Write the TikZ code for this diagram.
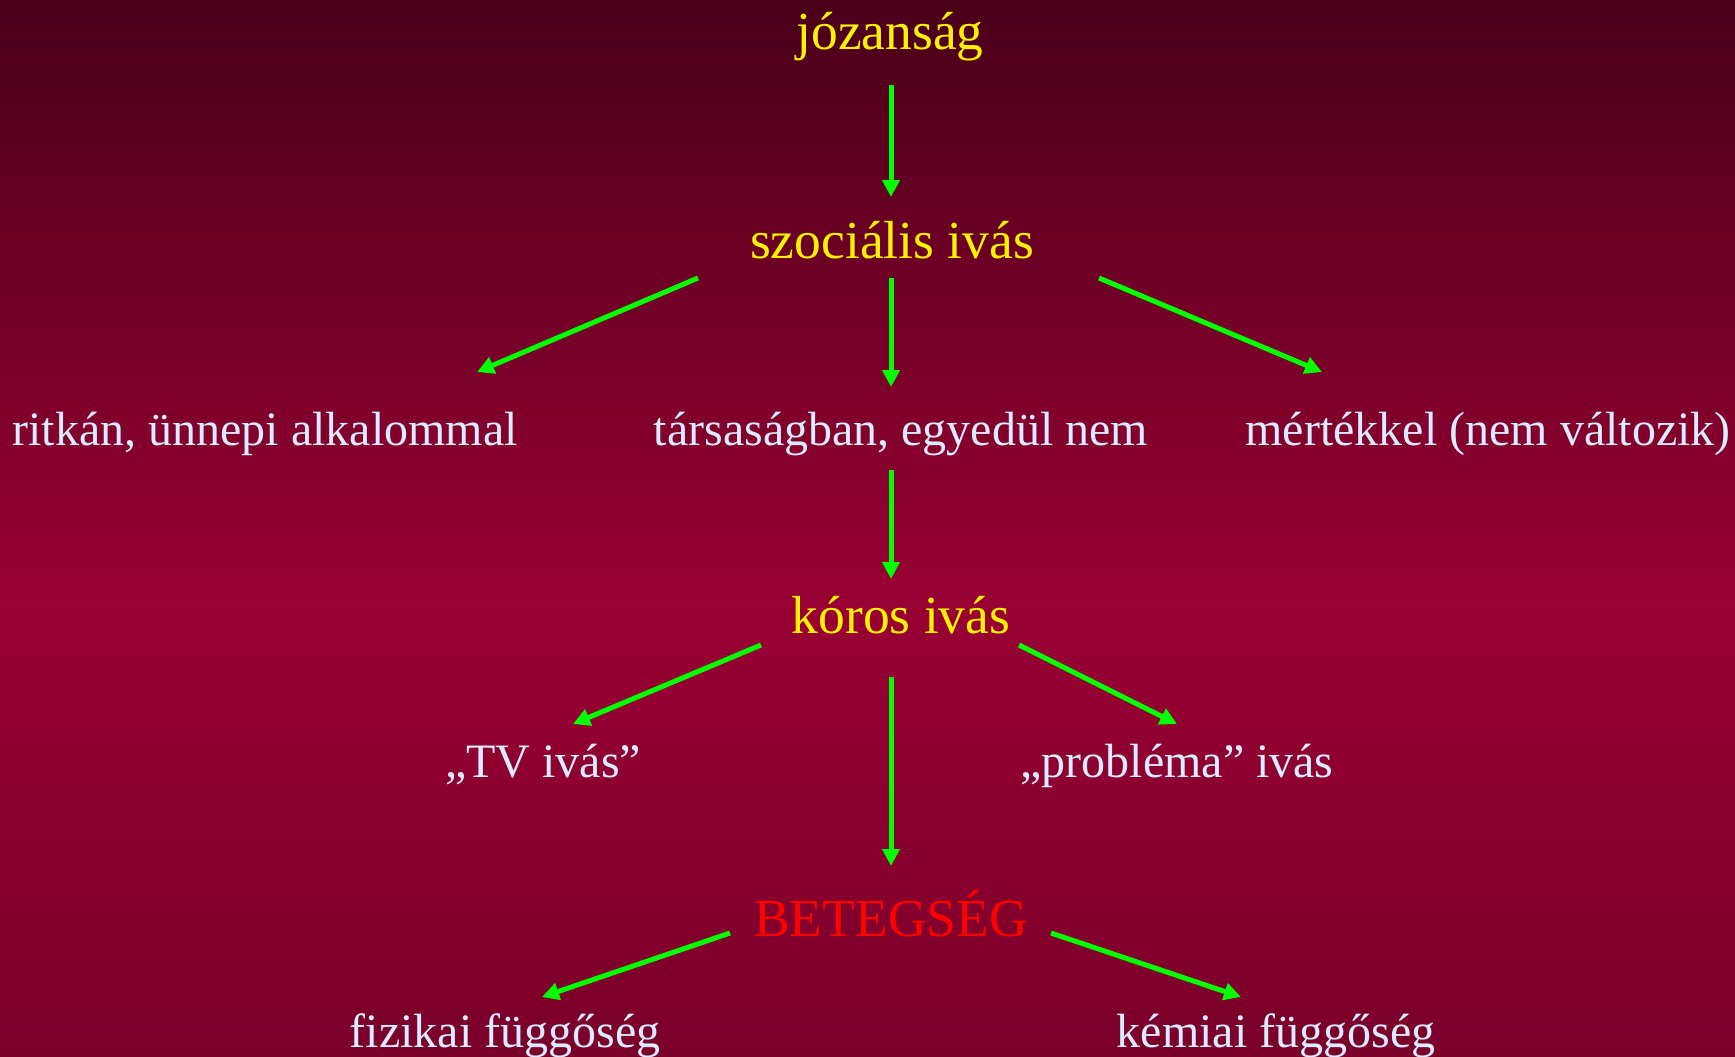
\documentclass[tikz,border=0pt]{standalone}
\usepackage{fontspec}
\setmainfont{Liberation Serif}
\usetikzlibrary{arrows.meta}
\usetikzlibrary{calc}

\definecolor{bgtop}{RGB}{74,0,26}
\definecolor{bgmid}{RGB}{153,0,51}
\definecolor{bgbot}{RGB}{122,0,42}
\definecolor{paleblue}{RGB}{218,236,255}
\definecolor{linkgreen}{RGB}{0,255,0}

\begin{document}
\begin{tikzpicture}[x=1pt,y=-1pt,
stage/.style={anchor=base,inner sep=0pt,text=yellow,font=\fontsize{53.5}{60}\selectfont},
kind/.style={anchor=base,inner sep=0pt,text=paleblue,font=\fontsize{48}{56}\selectfont},
link/.style={-{Triangle[length=17pt,width=17pt]},linkgreen,line width=5pt}]
% The background
\useasboundingbox (0,0) rectangle (1735,1057);
\shade[top color=bgtop,bottom color=bgmid] (0,0) rectangle (1735,600);
\shade[top color=bgmid,bottom color=bgbot] (0,600) rectangle (1735,1057);

% The stages
\node[stage] (jozan) at (890,50) {józanság};
\node[stage] (szoc) at (892,258) {szociális ivás};
\node[stage] (koros) at (901,633) {kóros ivás};
\node[stage,text=red] (beteg) at (891,936) {BETEGSÉG};

% The kinds of drinking
\node[kind] (ritkan) at (265,445) {ritkán, ünnepi alkalommal};
\node[kind] (tars) at (901,445) {társaságban, egyedül nem};
\node[kind] (mertek) at (1488,445) {mértékkel (nem változik)};
\node[kind] (tv) at (543,777) {„TV ivás”};
\node[kind] (probl) at (1177,777) {„probléma” ivás};
\node[kind] (fizik) at (505,1047) {fizikai függőség};
\node[kind] (kemia) at (1276,1047) {kémiai függőség};

% The arrows
\draw[link] ($(jozan.base)+(1,35)$) -- ($(szoc.base)+(-1,-61)$);
\draw[link] ($(szoc.base)+(-194,20)$) -- ($(ritkan.base)+(212,-73)$);
\draw[link] ($(szoc.base)+(-1,20)$) -- ($(tars.base)+(-10,-58)$);
\draw[link] ($(szoc.base)+(207,20)$) -- ($(mertek.base)+(-166,-73)$);
\draw[link] ($(tars.base)+(-10,25)$) -- ($(koros.base)+(-10,-54)$);
\draw[link] ($(koros.base)+(-140,12)$) -- ($(tv.base)+(30,-53)$);
\draw[link] ($(koros.base)+(-10,44)$) -- ($(beteg.base)+(0,-70)$);
\draw[link] ($(koros.base)+(118,12)$) -- ($(probl.base)+(0,-53)$);
\draw[link] ($(beteg.base)+(-161,-3)$) -- ($(fizik.base)+(37,-50)$);
\draw[link] ($(beteg.base)+(160,-3)$) -- ($(kemia.base)+(-35,-50)$);
\end{tikzpicture}
\end{document}
